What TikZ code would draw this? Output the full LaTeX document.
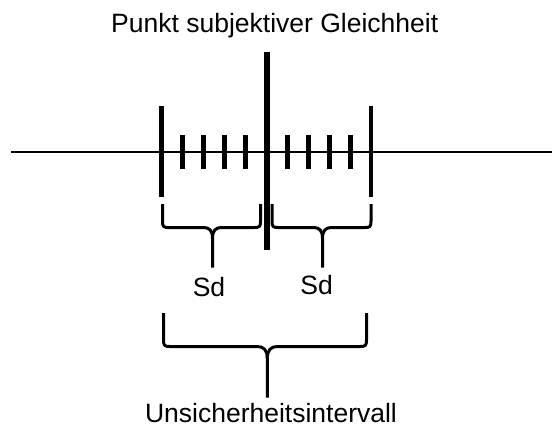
\documentclass[tikz,border=0pt]{standalone}
\usepackage{fontspec}
\setmainfont{Liberation Sans}

\tikzset{
	axisline/.style={line width=2pt},
	tallmark/.style={line width=4.5pt},
	smallmark/.style={line width=4.5pt},
	psemark/.style={line width=6pt},
	bracket/.style={line width=3pt, line join=round},
	lbl/.style={font=\fontsize{26.5}{30}\selectfont, inner sep=0pt, anchor=base},
}

\begin{document}
\begin{tikzpicture}[x=1pt, y=-1pt]
			\useasboundingbox (0,0) rectangle (552,429);
			% axis
			\coordinate (axL) at (11,152);
			\coordinate (axR) at (552,152);
			\draw[axisline] (axL) -- (axR);
			% outer marks
			\draw[tallmark] (161.3,106) -- (161.3,197);
			\draw[tallmark] (371,106) -- (371,197);
			\foreach \x in {182.3,203.3,224.3,245.3,287.3,308.3,329.3,350.3}
				\draw[smallmark] (\x,135) -- (\x,168.7);
			% point of subjective equality
			\draw[psemark] (266.7,52) -- (266.7,250);
			\node[lbl] (pse) at (274.7,32) {Punkt subjektiver Gleichheit};
			% left Sd bracket
			\draw[bracket] (162.5,204) -- (162.5,221.5) .. controls (162.5,226.5) and (163.5,227.5) .. (168.5,227.5) -- (203.5,227.5) .. controls (209.5,227.5) and (212.5,230.5) .. (212.5,238.5) -- (212.5,267.5);
			\draw[bracket] (260.5,204) -- (260.5,221.5) .. controls (260.5,226.5) and (259.5,227.5) .. (254.5,227.5) -- (221.5,227.5) .. controls (215.5,227.5) and (212.5,230.5) .. (212.5,238.5);
			\node[lbl] (sdL) at (209,296) {Sd};
			% right Sd bracket
			\draw[bracket] (272,204) -- (272,221.5) .. controls (272,226.5) and (273,227.5) .. (278,227.5) -- (313.5,227.5) .. controls (319.5,227.5) and (322.5,230.5) .. (322.5,238.5) -- (322.5,267.5);
			\draw[bracket] (371,204) -- (371,221.5) .. controls (371,226.5) and (370,227.5) .. (365,227.5) -- (331.5,227.5) .. controls (325.5,227.5) and (322.5,230.5) .. (322.5,238.5);
			\node[lbl] (sdR) at (316.7,294) {Sd};
			% uncertainty interval bracket
			\draw[bracket] (163.5,313) -- (163.5,340) .. controls (163.5,345.5) and (164.5,346.5) .. (170,346.5) -- (257,346.5) .. controls (264,346.5) and (267.3,350) .. (267.3,359) -- (267.3,397.5);
			\draw[bracket] (366.5,313) -- (366.5,340) .. controls (366.5,345.5) and (365.5,346.5) .. (360,346.5) -- (277.6,346.5) .. controls (270.6,346.5) and (267.3,350) .. (267.3,359);
			\node[lbl] (ui) at (271,422) {Unsicherheitsintervall};
		\end{tikzpicture}
\end{document}
